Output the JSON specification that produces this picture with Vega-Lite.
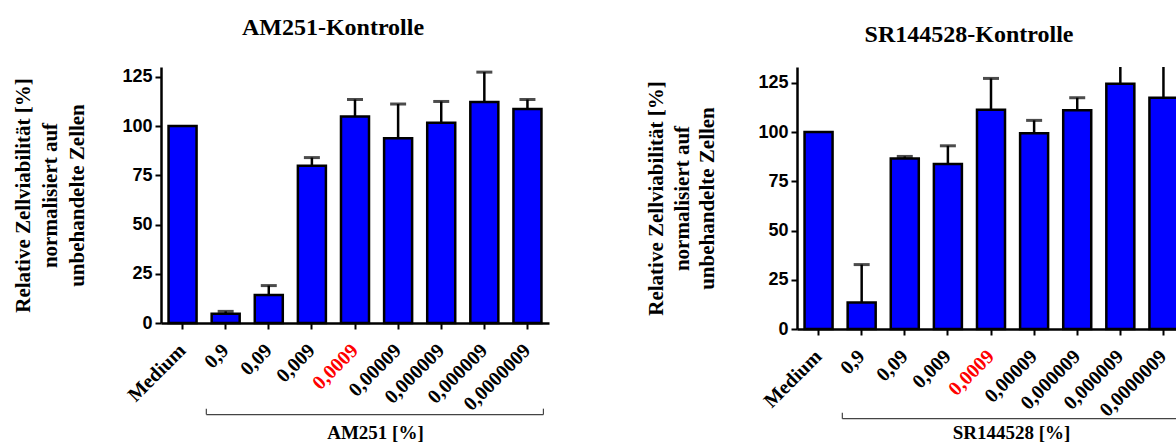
{
  "$schema": "https://vega.github.io/schema/vega-lite/v6.json",
  "background": "white",
  "padding": {"left": 12, "top": 16, "right": 0, "bottom": 0},
  "spacing": 96,
  "datasets": {
    "am251": [
      {"idx": 0, "dose": "Medium", "mean": 100},
      {"idx": 1, "dose": "0,9", "mean": 4.7, "upper": 5.9},
      {"idx": 2, "dose": "0,09", "mean": 14.2, "upper": 19.0},
      {"idx": 3, "dose": "0,009", "mean": 79.9, "upper": 84.0},
      {"idx": 4, "dose": "0,0009", "mean": 104.8, "upper": 113.5},
      {"idx": 5, "dose": "0,00009", "mean": 93.8, "upper": 111.2},
      {"idx": 6, "dose": "0,000009", "mean": 101.7, "upper": 112.5},
      {"idx": 7, "dose": "0,000009", "mean": 112.2, "upper": 127.4},
      {"idx": 8, "dose": "0,0000009", "mean": 108.7, "upper": 113.5}
    ],
    "sr144528": [
      {"idx": 0, "dose": "Medium", "mean": 100},
      {"idx": 1, "dose": "0,9", "mean": 13.4, "upper": 32.7},
      {"idx": 2, "dose": "0,09", "mean": 86.6, "upper": 87.6},
      {"idx": 3, "dose": "0,009", "mean": 83.8, "upper": 93.0},
      {"idx": 4, "dose": "0,0009", "mean": 111.3, "upper": 127.2},
      {"idx": 5, "dose": "0,00009", "mean": 99.4, "upper": 105.9},
      {"idx": 6, "dose": "0,000009", "mean": 111.0, "upper": 117.4},
      {"idx": 7, "dose": "0,000009", "mean": 124.5, "upper": 134.0},
      {"idx": 8, "dose": "0,0000009", "mean": 117.4, "upper": 140.0}
    ],
    "brackets": [
      {"from": 1, "to": 8}
    ]
  },
  "config": {
    "view": {"stroke": null},
    "title": {
      "font": "Liberation Serif",
      "fontSize": 24,
      "fontWeight": "bold",
      "color": "black",
      "anchor": "middle"
    },
    "axis": {
      "grid": false,
      "domainColor": "black",
      "domainWidth": 2.5,
      "tickColor": "black",
      "tickWidth": 2,
      "tickSize": 6
    }
  },
  "hconcat": [
    {
      "width": 388,
      "height": 256,
      "title": {"text": "AM251-Kontrolle", "dx": -22, "offset": 27},
      "layer": [
        {
          "data": {"name": "am251"},
          "mark": {"type": "bar", "fill": "#0000ff", "stroke": "black", "strokeWidth": 2.5},
          "encoding": {
            "x": {
              "field": "idx",
              "type": "ordinal",
              "scale": {"domain": [0, 1, 2, 3, 4, 5, 6, 7, 8], "paddingInner": 0.35, "paddingOuter": 0.175},
              "axis": {
                "labelExpr": "['Medium','0,9','0,09','0,009','0,0009','0,00009','0,000009','0,000009','0,0000009'][datum.value]",
                "labelAngle": -45,
                "labelAlign": "right",
                "labelBaseline": "middle",
                "labelFont": "Liberation Serif",
                "labelFontSize": 20,
                "labelFontWeight": "bold",
                "labelColor": {"condition": {"test": "datum.value === 4", "value": "#ff0000"}, "value": "black"},
                "labelPadding": 18,
                "title": "AM251 [%]",
                "titleFont": "Liberation Serif",
                "titleFontSize": 19,
                "titleFontWeight": "bold",
                "titleColor": "black",
                "titleX": 214,
                "titleY": 115,
                "titleBaseline": "alphabetic"
              }
            },
            "y": {
              "field": "mean",
              "type": "quantitative",
              "scale": {"domain": [0, 130], "nice": false},
              "axis": {
                "values": [0, 25, 50, 75, 100, 125],
                "title": ["Relative Zellviabilität [%]", "normalisiert auf", "unbehandelte Zellen"],
                "titleFont": "Liberation Serif",
                "titleFontSize": 21,
                "titleFontWeight": "bold",
                "titleColor": "black",
                "titleLineHeight": 27,
                "titlePadding": 34,
                "labelFont": "Liberation Sans",
                "labelFontSize": 18,
                "labelFontWeight": "bold",
                "labelColor": "black",
                "labelPadding": 3
              }
            }
          }
        },
        {
          "data": {"name": "am251"},
          "transform": [{"filter": "datum.upper != null"}],
          "mark": {"type": "rule", "color": "black", "strokeWidth": 2.5, "clip": true},
          "encoding": {
            "x": {"field": "idx", "type": "ordinal"},
            "y": {"field": "mean", "type": "quantitative"},
            "y2": {"field": "upper"}
          }
        },
        {
          "data": {"name": "am251"},
          "transform": [{"filter": "datum.upper != null"}],
          "mark": {"type": "tick", "orient": "horizontal", "color": "black", "size": 16, "thickness": 3, "clip": true},
          "encoding": {
            "x": {"field": "idx", "type": "ordinal"},
            "y": {"field": "upper", "type": "quantitative"}
          }
        },
        {
          "data": {"name": "brackets"},
          "mark": {"type": "rule", "color": "#444444", "strokeWidth": 1.2, "clip": false},
          "encoding": {
            "x": {"field": "from", "type": "ordinal", "bandPosition": -0.19},
            "x2": {"field": "to", "bandPosition": 1.07},
            "y": {"datum": -46.5}
          }
        },
        {
          "data": {"name": "brackets"},
          "mark": {"type": "rule", "color": "#444444", "strokeWidth": 1.2, "clip": false},
          "encoding": {
            "x": {"field": "from", "type": "ordinal", "bandPosition": -0.19},
            "y": {"datum": -46.5},
            "y2": {"datum": -43.5}
          }
        },
        {
          "data": {"name": "brackets"},
          "mark": {"type": "rule", "color": "#444444", "strokeWidth": 1.2, "clip": false},
          "encoding": {
            "x": {"field": "to", "type": "ordinal", "bandPosition": 1.07},
            "y": {"datum": -46.5},
            "y2": {"datum": -43.5}
          }
        }
      ]
    },
    {
      "width": 388,
      "height": 262,
      "title": {"text": "SR144528-Kontrolle", "dx": -22, "offset": 20},
      "layer": [
        {
          "data": {"name": "sr144528"},
          "mark": {"type": "bar", "fill": "#0000ff", "stroke": "black", "strokeWidth": 2.5},
          "encoding": {
            "x": {
              "field": "idx",
              "type": "ordinal",
              "scale": {"domain": [0, 1, 2, 3, 4, 5, 6, 7, 8], "paddingInner": 0.35, "paddingOuter": 0.175},
              "axis": {
                "labelExpr": "['Medium','0,9','0,09','0,009','0,0009','0,00009','0,000009','0,000009','0,0000009'][datum.value]",
                "labelAngle": -45,
                "labelAlign": "right",
                "labelBaseline": "middle",
                "labelFont": "Liberation Serif",
                "labelFontSize": 20,
                "labelFontWeight": "bold",
                "labelColor": {"condition": {"test": "datum.value === 4", "value": "#ff0000"}, "value": "black"},
                "labelPadding": 18,
                "title": "SR144528 [%]",
                "titleFont": "Liberation Serif",
                "titleFontSize": 19,
                "titleFontWeight": "bold",
                "titleColor": "black",
                "titleX": 214,
                "titleY": 109,
                "titleBaseline": "alphabetic"
              }
            },
            "y": {
              "field": "mean",
              "type": "quantitative",
              "scale": {"domain": [0, 133], "nice": false},
              "axis": {
                "values": [0, 25, 50, 75, 100, 125],
                "title": ["Relative Zellviabilität [%]", "normalisiert auf", "unbehandelte Zellen"],
                "titleFont": "Liberation Serif",
                "titleFontSize": 21,
                "titleFontWeight": "bold",
                "titleColor": "black",
                "titleLineHeight": 25.5,
                "titlePadding": 40,
                "labelFont": "Liberation Sans",
                "labelFontSize": 18,
                "labelFontWeight": "bold",
                "labelColor": "black",
                "labelPadding": 3
              }
            }
          }
        },
        {
          "data": {"name": "sr144528"},
          "transform": [{"filter": "datum.upper != null"}],
          "mark": {"type": "rule", "color": "black", "strokeWidth": 2.5, "clip": true},
          "encoding": {
            "x": {"field": "idx", "type": "ordinal"},
            "y": {"field": "mean", "type": "quantitative"},
            "y2": {"field": "upper"}
          }
        },
        {
          "data": {"name": "sr144528"},
          "transform": [{"filter": "datum.upper != null"}],
          "mark": {"type": "tick", "orient": "horizontal", "color": "black", "size": 16, "thickness": 3, "clip": true},
          "encoding": {
            "x": {"field": "idx", "type": "ordinal"},
            "y": {"field": "upper", "type": "quantitative"}
          }
        },
        {
          "data": {"name": "brackets"},
          "mark": {"type": "rule", "color": "#444444", "strokeWidth": 1.2, "clip": false},
          "encoding": {
            "x": {"field": "from", "type": "ordinal", "bandPosition": -0.19},
            "x2": {"field": "to", "bandPosition": 1.07},
            "y": {"datum": -45.5}
          }
        },
        {
          "data": {"name": "brackets"},
          "mark": {"type": "rule", "color": "#444444", "strokeWidth": 1.2, "clip": false},
          "encoding": {
            "x": {"field": "from", "type": "ordinal", "bandPosition": -0.19},
            "y": {"datum": -45.5},
            "y2": {"datum": -42.5}
          }
        },
        {
          "data": {"name": "brackets"},
          "mark": {"type": "rule", "color": "#444444", "strokeWidth": 1.2, "clip": false},
          "encoding": {
            "x": {"field": "to", "type": "ordinal", "bandPosition": 1.07},
            "y": {"datum": -45.5},
            "y2": {"datum": -42.5}
          }
        }
      ]
    }
  ]
}
